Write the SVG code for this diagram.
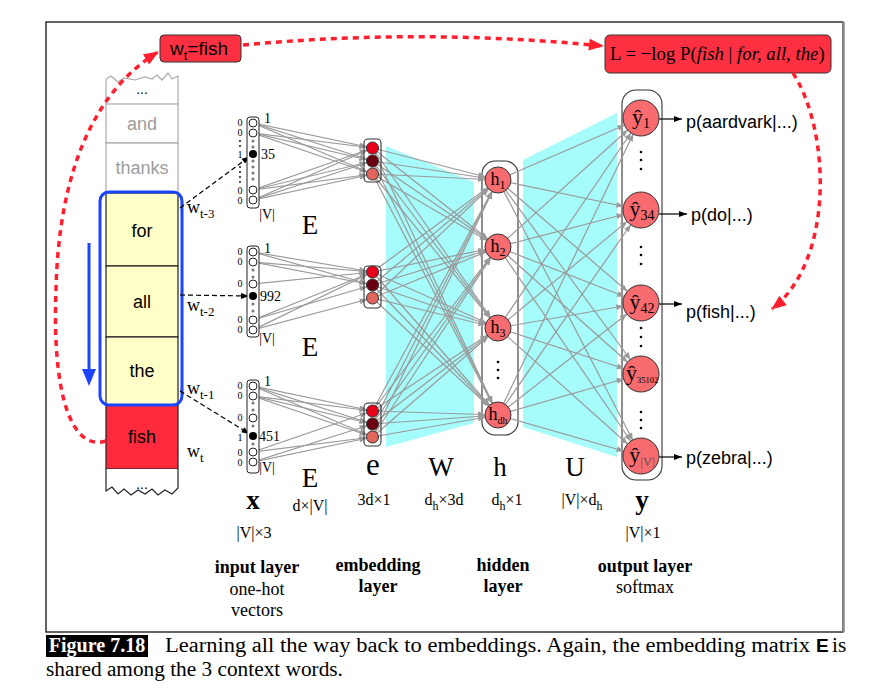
<svg xmlns="http://www.w3.org/2000/svg" width="870" height="688" viewBox="0 0 870 688">
<defs>
<style>
.serif{font-family:"Liberation Serif","Times New Roman",serif;fill:#000}
.sans{font-family:"Liberation Sans",Arial,sans-serif;fill:#000}
.c{stroke:#9a9a9a;stroke-width:1.2;fill:none}
.c1{marker-end:url(#a6)}
.c2{marker-end:url(#a13)}
.c3{marker-end:url(#a18)}
.red{stroke:#ff1f2f;stroke-width:3.5;fill:none;stroke-dasharray:6 5;marker-end:url(#ar)}
.dash{stroke:#000;stroke-width:1.2;fill:none;stroke-dasharray:5 3;marker-end:url(#ab)}
.oh{fill:#fff;stroke:#222;stroke-width:1}
.dot{fill:#777}
.node{fill:#f86b6f;stroke:#333;stroke-width:1}
.lay{fill:#fff;stroke:#333;stroke-width:1.1}
.cellY{fill:#ffffc8;stroke:#222;stroke-width:1.2}
.cellG{fill:#fff;stroke:#aaa;stroke-width:1.2}
.lbl0{font-size:10px;text-anchor:middle}
</style>
<marker id="a6" markerUnits="userSpaceOnUse" markerWidth="8" markerHeight="6" refX="13" refY="3" orient="auto" overflow="visible"><path d="M0,0 L7,3 L0,6 z" fill="#9a9a9a"/></marker>
<marker id="a13" markerUnits="userSpaceOnUse" markerWidth="8" markerHeight="6" refX="20" refY="3" orient="auto" overflow="visible"><path d="M0,0 L7,3 L0,6 z" fill="#9a9a9a"/></marker>
<marker id="a18" markerUnits="userSpaceOnUse" markerWidth="8" markerHeight="6" refX="25" refY="3" orient="auto" overflow="visible"><path d="M0,0 L7,3 L0,6 z" fill="#9a9a9a"/></marker>
<marker id="ab" markerUnits="userSpaceOnUse" markerWidth="8" markerHeight="6" refX="8" refY="3" orient="auto" overflow="visible"><path d="M0,0 L8,3 L0,6 z" fill="#000"/></marker>
<marker id="ar" markerUnits="userSpaceOnUse" markerWidth="16" markerHeight="12" refX="14" refY="6" orient="auto" overflow="visible"><path d="M0,0 L15,6 L0,12 z" fill="#ff1f2f"/></marker>
</defs>
<rect width="870" height="688" fill="#fff"/>

<!-- frame -->
<rect x="46" y="22" width="797" height="610" fill="none" stroke="#111" stroke-width="1.3"/>
<line x1="843.5" y1="22" x2="843.5" y2="632" stroke="#888" stroke-width="2.5"/>

<!-- cyan weight regions -->
<polygon points="386,146 474,182 474,423 386,447" fill="#a6fbfb"/>
<polygon points="523,160 617,113 617,457 523,427" fill="#a6fbfb"/>

<!-- word column -->
<g id="words">
<path d="M106,104 L106,79 L111,76 L118,82 L124,78 L135,80 L145,77 L152,79 L157,75 L162,80 L168,73 L172,79 L178,76 L178,104" fill="#fff" stroke="#aaa" stroke-width="1.2"/>
<text class="sans" x="142" y="94" font-size="14" text-anchor="middle">...</text>
<rect class="cellG" x="106" y="104" width="72" height="39"/>
<text class="sans" x="142" y="130" font-size="18" text-anchor="middle" style="fill:#9c9c9c">and</text>
<rect class="cellG" x="106" y="143" width="72" height="50"/>
<text class="sans" x="142" y="174" font-size="18" text-anchor="middle" style="fill:#9c9c9c">thanks</text>
<rect class="cellY" x="106" y="193" width="72" height="73"/>
<text class="sans" x="142" y="237" font-size="18" text-anchor="middle">for</text>
<rect class="cellY" x="106" y="266" width="72" height="71"/>
<text class="sans" x="142" y="308" font-size="18" text-anchor="middle">all</text>
<rect class="cellY" x="106" y="337" width="72" height="68"/>
<text class="sans" x="142" y="377" font-size="18" text-anchor="middle">the</text>
<rect x="106" y="405" width="72" height="64" fill="#ff2b3d" stroke="#222" stroke-width="1.2"/>
<text class="sans" x="142" y="443" font-size="18" text-anchor="middle">fish</text>
<path d="M106,469 L106,491 L112,487 L118,494 L124,489 L131,495 L138,490 L145,494 L152,489 L158,495 L165,490 L172,494 L178,488 L178,469" fill="#fff" stroke="#222" stroke-width="1.2"/>
<text class="sans" x="142" y="489" font-size="14" text-anchor="middle">...</text>
<rect x="100" y="192" width="82" height="213" rx="9" fill="none" stroke="#1a44ff" stroke-width="3"/>
<line x1="89" y1="243" x2="89" y2="372" stroke="#1a44ff" stroke-width="3"/>
<polygon points="82,369 96,369 89,386" fill="#1a44ff"/>
</g>

<g id="context-labels">
<text class="serif" x="187" y="213" font-size="18">w<tspan font-size="13" dy="5">t-3</tspan></text>
<text class="serif" x="187" y="311" font-size="18">w<tspan font-size="13" dy="5">t-2</tspan></text>
<text class="serif" x="187" y="394" font-size="18">w<tspan font-size="13" dy="5">t-1</tspan></text>
<text class="serif" x="187" y="457" font-size="18">w<tspan font-size="13" dy="5">t</tspan></text>
</g>

<!-- red boxes -->
<g id="target-box">
<rect x="160" y="35" width="81" height="27" rx="4" fill="#ff3041" stroke="#333" stroke-width="1"/>
<text class="sans" x="170" y="55" font-size="19">w<tspan font-size="13" dy="5">t</tspan><tspan dy="-5">=fish</tspan></text>
</g>
<g id="loss-box">
<rect x="605" y="35" width="226" height="38" rx="5" fill="#ff3041" stroke="#333" stroke-width="1"/>
<text class="serif" x="610" y="60" font-size="18.8">L = −log P(<tspan font-style="italic">fish</tspan> | <tspan font-style="italic">for, all, the</tspan>)</text>
</g>

<!-- layer containers -->
<rect class="lay" x="482" y="161" width="36" height="274" rx="13"/>
<rect class="lay" x="622" y="90" width="40" height="390" rx="14"/>

<!-- connectors -->
<g id="connectors">
<line class="c c1" x1="253" y1="123" x2="372.5" y2="148"/>
<line class="c c1" x1="253" y1="123" x2="372.5" y2="161"/>
<line class="c c1" x1="253" y1="123" x2="372.5" y2="174"/>
<line class="c c1" x1="253" y1="133" x2="372.5" y2="148"/>
<line class="c c1" x1="253" y1="133" x2="372.5" y2="161"/>
<line class="c c1" x1="253" y1="133" x2="372.5" y2="174"/>
<line class="c c1" x1="253" y1="190" x2="372.5" y2="148"/>
<line class="c c1" x1="253" y1="190" x2="372.5" y2="161"/>
<line class="c c1" x1="253" y1="190" x2="372.5" y2="174"/>
<line class="c c1" x1="253" y1="200" x2="372.5" y2="148"/>
<line class="c c1" x1="253" y1="200" x2="372.5" y2="161"/>
<line class="c c1" x1="253" y1="200" x2="372.5" y2="174"/>
<line class="c c1" x1="253" y1="252" x2="372.5" y2="272"/>
<line class="c c1" x1="253" y1="252" x2="372.5" y2="285"/>
<line class="c c1" x1="253" y1="262" x2="372.5" y2="272"/>
<line class="c c1" x1="253" y1="262" x2="372.5" y2="285"/>
<line class="c c1" x1="253" y1="284" x2="372.5" y2="272"/>
<line class="c c1" x1="253" y1="320" x2="372.5" y2="272"/>
<line class="c c1" x1="253" y1="320" x2="372.5" y2="285"/>
<line class="c c1" x1="253" y1="330" x2="372.5" y2="272"/>
<line class="c c1" x1="253" y1="330" x2="372.5" y2="298"/>
<line class="c c1" x1="253" y1="386" x2="372.5" y2="411"/>
<line class="c c1" x1="253" y1="386" x2="372.5" y2="424"/>
<line class="c c1" x1="253" y1="386" x2="372.5" y2="437"/>
<line class="c c1" x1="253" y1="396" x2="372.5" y2="411"/>
<line class="c c1" x1="253" y1="396" x2="372.5" y2="424"/>
<line class="c c1" x1="253" y1="396" x2="372.5" y2="437"/>
<line class="c c1" x1="253" y1="452" x2="372.5" y2="411"/>
<line class="c c1" x1="253" y1="452" x2="372.5" y2="437"/>
<line class="c c1" x1="253" y1="462" x2="372.5" y2="424"/>
<line class="c c1" x1="253" y1="462" x2="372.5" y2="437"/>
<line class="c c2" x1="372.5" y1="148" x2="498" y2="180"/>
<line class="c c2" x1="372.5" y1="148" x2="498" y2="247"/>
<line class="c c2" x1="372.5" y1="148" x2="498" y2="328"/>
<line class="c c2" x1="372.5" y1="148" x2="498" y2="415"/>
<line class="c c2" x1="372.5" y1="161" x2="498" y2="180"/>
<line class="c c2" x1="372.5" y1="161" x2="498" y2="247"/>
<line class="c c2" x1="372.5" y1="161" x2="498" y2="328"/>
<line class="c c2" x1="372.5" y1="161" x2="498" y2="415"/>
<line class="c c2" x1="372.5" y1="174" x2="498" y2="180"/>
<line class="c c2" x1="372.5" y1="174" x2="498" y2="247"/>
<line class="c c2" x1="372.5" y1="174" x2="498" y2="328"/>
<line class="c c2" x1="372.5" y1="174" x2="498" y2="415"/>
<line class="c c2" x1="372.5" y1="272" x2="498" y2="180"/>
<line class="c c2" x1="372.5" y1="272" x2="498" y2="247"/>
<line class="c c2" x1="372.5" y1="272" x2="498" y2="328"/>
<line class="c c2" x1="372.5" y1="272" x2="498" y2="415"/>
<line class="c c2" x1="372.5" y1="285" x2="498" y2="180"/>
<line class="c c2" x1="372.5" y1="285" x2="498" y2="247"/>
<line class="c c2" x1="372.5" y1="285" x2="498" y2="328"/>
<line class="c c2" x1="372.5" y1="285" x2="498" y2="415"/>
<line class="c c2" x1="372.5" y1="298" x2="498" y2="180"/>
<line class="c c2" x1="372.5" y1="298" x2="498" y2="247"/>
<line class="c c2" x1="372.5" y1="298" x2="498" y2="328"/>
<line class="c c2" x1="372.5" y1="298" x2="498" y2="415"/>
<line class="c c2" x1="372.5" y1="411" x2="498" y2="180"/>
<line class="c c2" x1="372.5" y1="411" x2="498" y2="247"/>
<line class="c c2" x1="372.5" y1="411" x2="498" y2="328"/>
<line class="c c2" x1="372.5" y1="411" x2="498" y2="415"/>
<line class="c c2" x1="372.5" y1="424" x2="498" y2="180"/>
<line class="c c2" x1="372.5" y1="424" x2="498" y2="247"/>
<line class="c c2" x1="372.5" y1="424" x2="498" y2="328"/>
<line class="c c2" x1="372.5" y1="424" x2="498" y2="415"/>
<line class="c c2" x1="372.5" y1="437" x2="498" y2="180"/>
<line class="c c2" x1="372.5" y1="437" x2="498" y2="247"/>
<line class="c c2" x1="372.5" y1="437" x2="498" y2="328"/>
<line class="c c2" x1="372.5" y1="437" x2="498" y2="415"/>
<line class="c c3" x1="498" y1="180" x2="641" y2="118"/>
<line class="c c3" x1="498" y1="180" x2="641" y2="210"/>
<line class="c c3" x1="498" y1="180" x2="641" y2="303"/>
<line class="c c3" x1="498" y1="180" x2="641" y2="374"/>
<line class="c c3" x1="498" y1="180" x2="641" y2="456"/>
<line class="c c3" x1="498" y1="247" x2="641" y2="118"/>
<line class="c c3" x1="498" y1="247" x2="641" y2="210"/>
<line class="c c3" x1="498" y1="247" x2="641" y2="303"/>
<line class="c c3" x1="498" y1="247" x2="641" y2="374"/>
<line class="c c3" x1="498" y1="247" x2="641" y2="456"/>
<line class="c c3" x1="498" y1="328" x2="641" y2="118"/>
<line class="c c3" x1="498" y1="328" x2="641" y2="210"/>
<line class="c c3" x1="498" y1="328" x2="641" y2="303"/>
<line class="c c3" x1="498" y1="328" x2="641" y2="374"/>
<line class="c c3" x1="498" y1="328" x2="641" y2="456"/>
<line class="c c3" x1="498" y1="415" x2="641" y2="118"/>
<line class="c c3" x1="498" y1="415" x2="641" y2="210"/>
<line class="c c3" x1="498" y1="415" x2="641" y2="303"/>
<line class="c c3" x1="498" y1="415" x2="641" y2="374"/>
<line class="c c3" x1="498" y1="415" x2="641" y2="456"/>
<line class="dash" x1="180" y1="208" x2="249.8" y2="156.4"/>
<line class="dash" x1="180" y1="295" x2="249" y2="296"/>
<line class="dash" x1="180" y1="391" x2="249.6" y2="433.9"/>
<line x1="659" y1="119" x2="682" y2="119" stroke="#000" stroke-width="1.2" marker-end="url(#ab)"/>
<line x1="659" y1="214" x2="687" y2="214" stroke="#000" stroke-width="1.2" marker-end="url(#ab)"/>
<line x1="659" y1="304" x2="682" y2="304" stroke="#000" stroke-width="1.2" marker-end="url(#ab)"/>
<line x1="659" y1="457" x2="682" y2="457" stroke="#000" stroke-width="1.2" marker-end="url(#ab)"/>
<path class="red" d="M106,441 C70,452 52,390 56,290 C58,200 80,100 158,52"/>
<path class="red" d="M243,45 Q423,28 603,46"/>
<path class="red" d="M793,73 C830,130 835,260 772,309"/>
</g>

<!-- one-hot vectors -->
<g id="onehot-1">
<rect class="oh" x="247" y="117" width="12" height="91" rx="3"/>
<circle class="oh" cx="253" cy="123" r="4"/><circle class="oh" cx="253" cy="133" r="4"/>
<circle class="dot" cx="253" cy="141" r="1.5"/><circle class="dot" cx="253" cy="147" r="1.5"/>
<circle cx="253" cy="154" r="4" fill="#000"/>
<circle class="dot" cx="253" cy="161" r="1.5"/><circle class="dot" cx="253" cy="167" r="1.5"/><circle class="dot" cx="253" cy="173" r="1.5"/><circle class="dot" cx="253" cy="179" r="1.5"/>
<circle class="oh" cx="253" cy="190" r="4"/><circle class="oh" cx="253" cy="200" r="4"/>
<text class="serif lbl0" x="240" y="126">0</text><text class="serif lbl0" x="240" y="136">0</text>
<circle cx="240" cy="141" r="0.9" fill="#000"/><circle cx="240" cy="146" r="0.9" fill="#000"/>
<text class="serif lbl0" x="240" y="158">1</text>
<circle cx="240" cy="167" r="0.9" fill="#000"/><circle cx="240" cy="172" r="0.9" fill="#000"/><circle cx="240" cy="177" r="0.9" fill="#000"/><circle cx="240" cy="182" r="0.9" fill="#000"/>
<text class="serif lbl0" x="240" y="194">0</text><text class="serif lbl0" x="240" y="204">0</text>
<text class="serif" x="264" y="123" font-size="14">1</text>
<text class="serif" x="261" y="159" font-size="14">35</text>
<text class="serif" x="267" y="219" font-size="14" text-anchor="middle">|V|</text>
</g>
<g id="onehot-2">
<rect class="oh" x="247" y="246" width="12" height="91" rx="3"/>
<circle class="oh" cx="253" cy="252" r="4"/><circle class="oh" cx="253" cy="262" r="4"/>
<circle class="dot" cx="253" cy="270" r="1.5"/><circle class="dot" cx="253" cy="277" r="1.5"/>
<circle class="oh" cx="253" cy="284" r="4"/>
<circle cx="253" cy="296" r="4" fill="#000"/>
<circle class="dot" cx="253" cy="304" r="1.5"/><circle class="dot" cx="253" cy="311" r="1.5"/>
<circle class="oh" cx="253" cy="320" r="4"/><circle class="oh" cx="253" cy="330" r="4"/>
<text class="serif lbl0" x="240" y="255">0</text><text class="serif lbl0" x="240" y="265">0</text>
<text class="serif lbl0" x="240" y="287">0</text>
<text class="serif lbl0" x="240" y="323">0</text><text class="serif lbl0" x="240" y="333">0</text>
<text class="serif" x="264" y="253" font-size="14">1</text>
<text class="serif" x="260" y="301" font-size="14">992</text>
<text class="serif" x="267" y="343" font-size="14" text-anchor="middle">|V|</text>
</g>
<g id="onehot-3">
<rect class="oh" x="247" y="380" width="12" height="93" rx="3"/>
<circle class="oh" cx="253" cy="386" r="4"/><circle class="oh" cx="253" cy="396" r="4"/>
<circle class="dot" cx="253" cy="403" r="1.5"/><circle class="dot" cx="253" cy="410" r="1.5"/>
<circle class="oh" cx="253" cy="418" r="4"/>
<circle class="dot" cx="253" cy="426" r="1.5"/>
<circle cx="253" cy="436" r="4" fill="#000"/>
<circle class="dot" cx="253" cy="444" r="1.5"/>
<circle class="oh" cx="253" cy="452" r="4"/><circle class="oh" cx="253" cy="462" r="4"/>
<text class="serif lbl0" x="240" y="389">0</text><text class="serif lbl0" x="240" y="399">0</text>
<text class="serif lbl0" x="240" y="421">0</text>
<text class="serif lbl0" x="240" y="441">1</text>
<text class="serif lbl0" x="240" y="456">0</text><text class="serif lbl0" x="240" y="466">0</text>
<text class="serif" x="264" y="386" font-size="14">1</text>
<text class="serif" x="259" y="441" font-size="14">451</text>
<text class="serif" x="267" y="472" font-size="14" text-anchor="middle">|V|</text>
</g>

<!-- embedding nodes -->
<g id="emb-1">
<rect x="364" y="139" width="17" height="43" rx="4" fill="none" stroke="#333" stroke-width="1.1"/>
<circle cx="372.5" cy="148" r="6" fill="#e8001a" stroke="#333"/>
<circle cx="372.5" cy="161" r="6" fill="#6a0010" stroke="#333"/>
<circle cx="372.5" cy="174" r="6" fill="#e0665e" stroke="#333"/>
</g>
<g id="emb-2">
<rect x="364" y="266" width="17" height="42" rx="4" fill="none" stroke="#333" stroke-width="1.1"/>
<circle cx="372.5" cy="272" r="6" fill="#e8001a" stroke="#333"/>
<circle cx="372.5" cy="285" r="6" fill="#6a0010" stroke="#333"/>
<circle cx="372.5" cy="298" r="6" fill="#e0665e" stroke="#333"/>
</g>
<g id="emb-3">
<rect x="364" y="403" width="17" height="43" rx="4" fill="none" stroke="#333" stroke-width="1.1"/>
<circle cx="372.5" cy="411" r="6" fill="#e8001a" stroke="#333"/>
<circle cx="372.5" cy="424" r="6" fill="#6a0010" stroke="#333"/>
<circle cx="372.5" cy="437" r="6" fill="#e0665e" stroke="#333"/>
</g>

<!-- hidden nodes -->
<g id="h1"><circle class="node" cx="498" cy="180" r="13"/><text class="serif" x="498" y="185" font-size="18" text-anchor="middle">h<tspan font-size="12" dy="4">1</tspan></text></g>
<g id="h2"><circle class="node" cx="498" cy="247" r="13"/><text class="serif" x="498" y="252" font-size="18" text-anchor="middle">h<tspan font-size="12" dy="4">2</tspan></text></g>
<g id="h3"><circle class="node" cx="498" cy="328" r="13"/><text class="serif" x="498" y="333" font-size="18" text-anchor="middle">h<tspan font-size="12" dy="4">3</tspan></text></g>
<g id="hdots"><circle cx="498" cy="362" r="1.3"/><circle cx="498" cy="370" r="1.3"/><circle cx="498" cy="378" r="1.3"/></g>
<g id="hdh"><circle class="node" cx="498" cy="415" r="13"/><text class="serif" x="498" y="420" font-size="18" text-anchor="middle">h<tspan font-size="10" dy="4">dh</tspan></text></g>

<!-- output nodes -->
<g id="y1"><circle class="node" cx="641" cy="118" r="18"/><text class="serif" x="641" y="124" font-size="22" text-anchor="middle">ŷ<tspan font-size="14" dy="4">1</tspan></text></g>
<g id="ydots1"><circle cx="641" cy="152" r="1.3"/><circle cx="641" cy="160" r="1.3"/><circle cx="641" cy="169" r="1.3"/></g>
<g id="y34"><circle class="node" cx="641" cy="210" r="18"/><text class="serif" x="642" y="216" font-size="22" text-anchor="middle">ŷ<tspan font-size="14" dy="4">34</tspan></text></g>
<g id="ydots2"><circle cx="641" cy="247" r="1.3"/><circle cx="641" cy="255" r="1.3"/><circle cx="641" cy="264" r="1.3"/></g>
<g id="y42"><circle class="node" cx="641" cy="303" r="18"/><text class="serif" x="642" y="309" font-size="22" text-anchor="middle">ŷ<tspan font-size="14" dy="4">42</tspan></text></g>
<g id="ydots3"><circle cx="641" cy="328" r="1.3"/><circle cx="641" cy="337" r="1.3"/><circle cx="641" cy="346" r="1.3"/></g>
<g id="y35102"><circle class="node" cx="641" cy="374" r="18"/><text class="serif" x="642" y="380" font-size="22" text-anchor="middle">ŷ<tspan font-size="8.5" dy="3">35102</tspan></text></g>
<g id="ydots4"><circle cx="641" cy="412" r="1.3"/><circle cx="641" cy="420" r="1.3"/><circle cx="641" cy="428" r="1.3"/></g>
<g id="yV"><circle class="node" cx="641" cy="456" r="18"/><text class="serif" x="642" y="462" font-size="22" text-anchor="middle">ŷ<tspan font-size="13" dy="4" style="fill:#555">|V|</tspan></text></g>

<!-- probability labels -->
<g id="probs">
<text class="sans" x="686" y="128" font-size="18">p(aardvark|...)</text>
<text class="sans" x="691" y="221" font-size="18">p(do|...)</text>
<text class="sans" x="686" y="318" font-size="18">p(fish|...)</text>
<text class="sans" x="686" y="464" font-size="18">p(zebra|...)</text>
</g>

<!-- matrix / layer labels -->
<g id="labels">
<text class="serif" x="310" y="234" font-size="27" text-anchor="middle">E</text>
<text class="serif" x="310" y="356" font-size="27" text-anchor="middle">E</text>
<text class="serif" x="310" y="487" font-size="27" text-anchor="middle">E</text>
<text class="serif" x="373" y="475" font-size="31" text-anchor="middle">e</text>
<text class="serif" x="441" y="476" font-size="27" text-anchor="middle">W</text>
<text class="serif" x="500" y="476" font-size="27" text-anchor="middle">h</text>
<text class="serif" x="575" y="476" font-size="27" text-anchor="middle">U</text>
<text class="serif" x="253" y="509" font-size="27" font-weight="bold" text-anchor="middle">x</text>
<text class="serif" x="642" y="509" font-size="27" font-weight="bold" text-anchor="middle">y</text>
<text class="serif" x="310" y="511" font-size="16" text-anchor="middle">d×|V|</text>
<text class="serif" x="374" y="505" font-size="16" text-anchor="middle">3d×1</text>
<text class="serif" x="444" y="505" font-size="16" text-anchor="middle">d<tspan font-size="12" dy="5">h</tspan><tspan dy="-5">×3d</tspan></text>
<text class="serif" x="507" y="505" font-size="16" text-anchor="middle">d<tspan font-size="12" dy="5">h</tspan><tspan dy="-5">×1</tspan></text>
<text class="serif" x="582" y="505" font-size="16" text-anchor="middle">|V|×d<tspan font-size="12" dy="5">h</tspan></text>
<text class="serif" x="254" y="538" font-size="16" text-anchor="middle">|V|×3</text>
<text class="serif" x="643" y="538" font-size="16" text-anchor="middle">|V|×1</text>
<text class="serif" x="257" y="573" font-size="18" font-weight="bold" text-anchor="middle">input layer</text>
<text class="serif" x="257" y="595" font-size="18" text-anchor="middle">one-hot</text>
<text class="serif" x="257" y="616" font-size="18" text-anchor="middle">vectors</text>
<text class="serif" x="378" y="571" font-size="18" font-weight="bold" text-anchor="middle">embedding</text>
<text class="serif" x="378" y="592" font-size="18" font-weight="bold" text-anchor="middle">layer</text>
<text class="serif" x="503" y="571" font-size="18" font-weight="bold" text-anchor="middle">hidden</text>
<text class="serif" x="503" y="592" font-size="18" font-weight="bold" text-anchor="middle">layer</text>
<text class="serif" x="645" y="572" font-size="18" font-weight="bold" text-anchor="middle">output layer</text>
<text class="serif" x="645" y="593" font-size="18" text-anchor="middle">softmax</text>
</g>

<!-- caption -->
<g id="caption">
<rect x="46" y="635" width="102" height="22" fill="#000"/>
<text class="serif" x="97" y="652" font-size="20" font-weight="bold" text-anchor="middle" style="fill:#fff">Figure 7.18</text>
<text class="serif" x="165" y="652" font-size="21.3" textLength="645" lengthAdjust="spacingAndGlyphs">Learning all the way back to embeddings. Again, the embedding matrix</text>
<text class="sans" x="816" y="652" font-size="19" font-weight="bold">E</text>
<text class="serif" x="832" y="652" font-size="21.3">is</text>
<text class="serif" x="46" y="676" font-size="21.3">shared among the 3 context words.</text>
</g>
</svg>
